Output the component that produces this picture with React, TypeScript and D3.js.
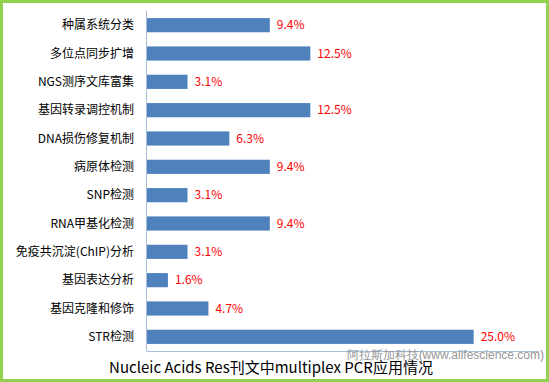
import React from "react";
import * as d3 from "d3";

const categories = [
  "种属系统分类",
  "多位点同步扩增",
  "NGS测序文库富集",
  "基因转录调控机制",
  "DNA损伤修复机制",
  "病原体检测",
  "SNP检测",
  "RNA甲基化检测",
  "免疫共沉淀(ChIP)分析",
  "基因表达分析",
  "基因克隆和修饰",
  "STR检测",
];
const values = [9.4, 12.5, 3.1, 12.5, 6.3, 9.4, 3.1, 9.4, 3.1, 1.6, 4.7, 25.0];
const title = "Nucleic Acids Res刊文中multiplex PCR应用情况";
const watermark = "阿拉斯加科技(www.alifescience.com)";

const W = 549;
const H = 382;
const left = 147;
const right = 539;
const top = 11;
const bottom = 351;

export default function App() {
  const x = d3.scaleLinear().domain([0, 30]).range([left, right]);
  const y = d3
    .scaleBand<string>()
    .domain(categories)
    .range([top, bottom])
    .paddingInner(0.5)
    .paddingOuter(0.25);
  const font = "'Microsoft YaHei', 'Noto Sans CJK SC', sans-serif";
  return (
    <svg
      width={W}
      height={H}
      style={{ position: "absolute", left: 0, top: 0, background: "#fff" }}
    >
      <rect x={1.5} y={1.5} width={W - 3} height={H - 3} fill="#fff" stroke="#92D050" strokeWidth={3} />
      {categories.map((c, i) => (
        <g key={c}>
          <rect
            x={x(0)}
            y={y(c)!}
            width={x(values[i]) - x(0)}
            height={y.bandwidth()}
            fill="#4F81BD"
          />
          <text
            x={left - 13}
            y={y(c)! + y.bandwidth() / 2}
            dy="0.35em"
            textAnchor="end"
            fontSize={12}
            fontFamily={font}
            fill="#000"
          >
            {c}
          </text>
          <text
            x={x(values[i]) + 7}
            y={y(c)! + y.bandwidth() / 2}
            dy="0.35em"
            fontSize={12}
            fontFamily={font}
            fill="#FF0000"
          >
            {values[i].toFixed(1) + "%"}
          </text>
        </g>
      ))}
      <line x1={left - 0.5} x2={left - 0.5} y1={top} y2={bottom} stroke="#A6BDDB" strokeWidth={1} />
      <line x1={left - 0.5} x2={right} y1={bottom + 0.5} y2={bottom + 0.5} stroke="#A6BDDB" strokeWidth={1} />
      <text
        x={W - 5}
        y={355}
        dy="0.35em"
        textAnchor="end"
        fontSize={12}
        fontFamily="'Liberation Sans', Arial, sans-serif"
        fill="#8c8c8c"
        opacity={0.9}
      >
        {watermark}
      </text>
      <text
        x={271}
        y={373}
        textAnchor="middle"
        fontSize={15}
        fontFamily={font}
        fill="#000"
      >
        {title}
      </text>
    </svg>
  );
}
